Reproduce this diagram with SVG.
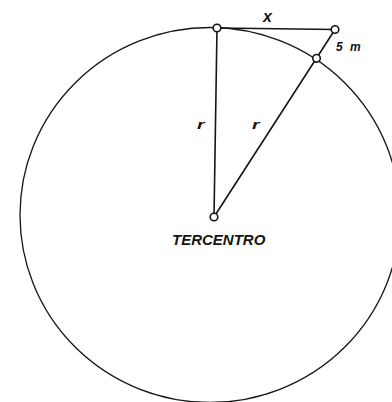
<svg xmlns="http://www.w3.org/2000/svg" width="392" height="402" viewBox="0 0 392 402">
<style>
.ln{stroke:#151515;stroke-width:1.6;fill:none;stroke-linecap:round}
.arc{stroke:#151515;stroke-width:1.3;fill:none}
.pt{stroke:#151515;stroke-width:1.6;fill:#fff}
.lbl{font-family:"Liberation Sans",Arial,sans-serif;font-style:italic;font-weight:bold;fill:#151515}
</style>
<rect width="392" height="402" fill="#fff"/>
<g id="circle">
<ellipse class="arc" cx="210" cy="215" rx="190" ry="187.5"/>
</g>
<g id="connectors">
<line class="ln" x1="217" y1="28" x2="214" y2="217"/>
<line class="ln" x1="217" y1="28" x2="335" y2="29.5"/>
<line class="ln" x1="214" y1="217" x2="335" y2="29.5"/>
</g>
<g id="top-point"><circle class="pt" cx="217" cy="28" r="3.8"/></g>
<g id="far-point"><circle class="pt" cx="335" cy="29.5" r="3.8"/></g>
<g id="surface-point"><circle class="pt" cx="316.5" cy="58.3" r="3.8"/></g>
<g id="tercentro">
<circle class="pt" cx="214" cy="217" r="3.8"/>
<text class="lbl" x="172" y="244.5" font-size="15">TERCENTRO</text>
</g>
<g id="labels">
<text class="lbl" x="263" y="22" font-size="16">x</text>
<text class="lbl" x="336" y="50.5" font-size="12" word-spacing="4">5 m</text>
<text class="lbl" font-size="12" transform="translate(197,129) scale(1.6,1)">r</text>
<text class="lbl" font-size="12" transform="translate(252,129) scale(1.6,1)">r</text>
</g>
</svg>
